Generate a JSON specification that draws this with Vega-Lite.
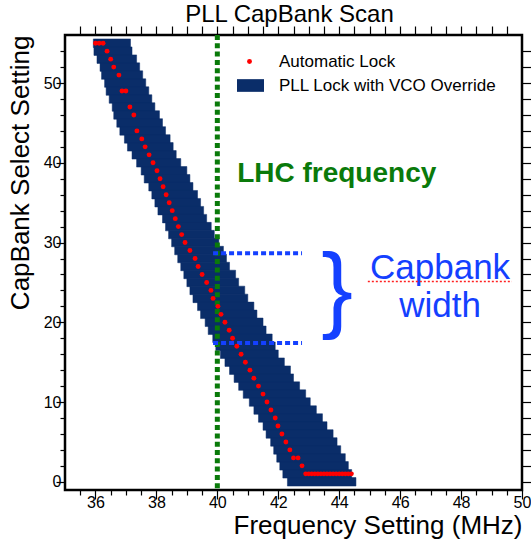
{
  "$schema": "https://vega.github.io/schema/vega-lite/v6.json",
  "width": 457,
  "height": 455,
  "autosize": {"type": "none"},
  "padding": {"left": 65, "top": 35, "right": 9, "bottom": 51},
  "background": "white",
  "config": {
    "font": "Liberation Sans",
    "view": {"stroke": "black", "strokeWidth": 2.5},
    "axis": {"grid": false, "domain": false, "tickColor": "black", "tickWidth": 1.2, "labelColor": "black", "labelFont": "Liberation Sans", "labelFontSize": 16, "titleFont": "Liberation Sans", "titleFontWeight": "normal", "titleColor": "black", "labelFlush": false, "labelOverlap": false, "format": "d"}
  },
  "title": {"text": "PLL CapBank Scan", "fontSize": 24, "fontWeight": "normal", "font": "Liberation Sans", "color": "black", "baseline": "alphabetic", "frame": "group", "offset": -21, "dx": -4},
  "datasets": {
    "override": [
      {"cap": 55, "lo": 35.93, "hi": 37.15},
      {"cap": 54, "lo": 35.95, "hi": 37.2},
      {"cap": 53, "lo": 36.05, "hi": 37.35},
      {"cap": 52, "lo": 36.15, "hi": 37.45},
      {"cap": 51, "lo": 36.2, "hi": 37.55},
      {"cap": 50, "lo": 36.3, "hi": 37.65},
      {"cap": 49, "lo": 36.35, "hi": 37.75},
      {"cap": 48, "lo": 36.45, "hi": 37.85},
      {"cap": 47, "lo": 36.55, "hi": 37.95},
      {"cap": 46, "lo": 36.6, "hi": 38.1},
      {"cap": 45, "lo": 36.7, "hi": 38.2},
      {"cap": 44, "lo": 36.8, "hi": 38.3},
      {"cap": 43, "lo": 36.95, "hi": 38.45},
      {"cap": 42, "lo": 37.05, "hi": 38.55},
      {"cap": 41, "lo": 37.2, "hi": 38.65},
      {"cap": 40, "lo": 37.35, "hi": 38.8},
      {"cap": 39, "lo": 37.5, "hi": 39.0},
      {"cap": 38, "lo": 37.6, "hi": 39.1},
      {"cap": 37, "lo": 37.75, "hi": 39.2},
      {"cap": 36, "lo": 37.85, "hi": 39.35},
      {"cap": 35, "lo": 37.95, "hi": 39.45},
      {"cap": 34, "lo": 38.05, "hi": 39.55},
      {"cap": 33, "lo": 38.2, "hi": 39.65},
      {"cap": 32, "lo": 38.3, "hi": 39.8},
      {"cap": 31, "lo": 38.4, "hi": 39.9},
      {"cap": 30, "lo": 38.5, "hi": 40.05},
      {"cap": 29, "lo": 38.6, "hi": 40.2},
      {"cap": 28, "lo": 38.7, "hi": 40.3},
      {"cap": 27, "lo": 38.8, "hi": 40.4},
      {"cap": 26, "lo": 38.9, "hi": 40.6},
      {"cap": 25, "lo": 39.0, "hi": 40.7},
      {"cap": 24, "lo": 39.1, "hi": 40.9},
      {"cap": 23, "lo": 39.2, "hi": 41.0},
      {"cap": 22, "lo": 39.35, "hi": 41.2},
      {"cap": 21, "lo": 39.45, "hi": 41.3},
      {"cap": 20, "lo": 39.6, "hi": 41.5},
      {"cap": 19, "lo": 39.7, "hi": 41.6},
      {"cap": 18, "lo": 39.85, "hi": 41.8},
      {"cap": 17, "lo": 39.95, "hi": 41.9},
      {"cap": 16, "lo": 40.1, "hi": 42.0},
      {"cap": 15, "lo": 40.25, "hi": 42.2},
      {"cap": 14, "lo": 40.4, "hi": 42.4},
      {"cap": 13, "lo": 40.55, "hi": 42.5},
      {"cap": 12, "lo": 40.7, "hi": 42.7},
      {"cap": 11, "lo": 40.85, "hi": 42.9},
      {"cap": 10, "lo": 41.05, "hi": 43.05},
      {"cap": 9, "lo": 41.2, "hi": 43.25},
      {"cap": 8, "lo": 41.35, "hi": 43.45},
      {"cap": 7, "lo": 41.5, "hi": 43.6},
      {"cap": 6, "lo": 41.6, "hi": 43.8},
      {"cap": 5, "lo": 41.75, "hi": 43.93},
      {"cap": 4, "lo": 41.85, "hi": 44.05},
      {"cap": 3, "lo": 41.95, "hi": 44.2},
      {"cap": 2, "lo": 42.05, "hi": 44.3},
      {"cap": 1, "lo": 42.15, "hi": 44.41},
      {"cap": 0, "lo": 42.3, "hi": 44.55}
    ],
    "autolock": [
      {"cap": 55, "f": 36.0}, {"cap": 55, "f": 36.12}, {"cap": 55, "f": 36.25},
      {"cap": 54, "f": 36.38}, {"cap": 53, "f": 36.5}, {"cap": 52, "f": 36.6},
      {"cap": 51, "f": 36.77}, {"cap": 49, "f": 36.87}, {"cap": 49, "f": 37.0},
      {"cap": 47, "f": 37.13}, {"cap": 46, "f": 37.26}, {"cap": 44, "f": 37.36},
      {"cap": 43, "f": 37.52}, {"cap": 42, "f": 37.63}, {"cap": 41, "f": 37.76},
      {"cap": 40, "f": 37.89}, {"cap": 39, "f": 38.02}, {"cap": 38, "f": 38.12},
      {"cap": 37, "f": 38.22}, {"cap": 36, "f": 38.32}, {"cap": 35, "f": 38.42},
      {"cap": 34, "f": 38.52}, {"cap": 33, "f": 38.62}, {"cap": 32, "f": 38.72},
      {"cap": 31, "f": 38.83}, {"cap": 30, "f": 38.94}, {"cap": 29, "f": 39.1},
      {"cap": 28, "f": 39.27}, {"cap": 27, "f": 39.37}, {"cap": 26, "f": 39.5},
      {"cap": 25, "f": 39.65}, {"cap": 24, "f": 39.79}, {"cap": 23, "f": 39.86},
      {"cap": 22, "f": 40.02}, {"cap": 21, "f": 40.12}, {"cap": 20, "f": 40.25},
      {"cap": 19, "f": 40.39}, {"cap": 18, "f": 40.5}, {"cap": 17, "f": 40.64},
      {"cap": 16, "f": 40.78}, {"cap": 15, "f": 40.92}, {"cap": 14, "f": 41.07},
      {"cap": 13, "f": 41.2}, {"cap": 12, "f": 41.35}, {"cap": 11, "f": 41.5},
      {"cap": 10, "f": 41.63}, {"cap": 9, "f": 41.76}, {"cap": 8, "f": 41.9},
      {"cap": 7, "f": 41.99}, {"cap": 6, "f": 42.12}, {"cap": 5, "f": 42.25},
      {"cap": 4, "f": 42.38}, {"cap": 3, "f": 42.5}, {"cap": 3, "f": 42.65},
      {"cap": 2, "f": 42.78},
      {"cap": 1, "f": 42.9}, {"cap": 1, "f": 43.0}, {"cap": 1, "f": 43.1}, {"cap": 1, "f": 43.2},
      {"cap": 1, "f": 43.3}, {"cap": 1, "f": 43.4}, {"cap": 1, "f": 43.5}, {"cap": 1, "f": 43.6},
      {"cap": 1, "f": 43.7}, {"cap": 1, "f": 43.8}, {"cap": 1, "f": 43.9}, {"cap": 1, "f": 44.0},
      {"cap": 1, "f": 44.1}, {"cap": 1, "f": 44.2}, {"cap": 1, "f": 44.3}, {"cap": 1, "f": 44.4}
    ],
    "one": [{}]
  },
  "resolve": {"axis": {"x": "independent", "y": "independent"}},
  "layer": [
    {
      "data": {"name": "override"},
      "mark": {"type": "bar", "orient": "horizontal", "size": 8.5, "clip": true, "stroke": "#0a2d69", "strokeWidth": 0.5},
      "encoding": {
        "x": {
          "field": "lo", "type": "quantitative",
          "scale": {"domain": [35, 50], "nice": false, "zero": false},
          "axis": {
            "orient": "bottom",
            "values": [36, 38, 40, 42, 44, 46, 48, 50],
            "tickSize": 9, "labelPadding": -5,
            "encode": {"ticks": {"update": {"y2": {"value": -9}}}},
            "title": "Frequency Setting (MHz)", "titleFontSize": 26,
            "titleAnchor": "end", "titleBaseline": "alphabetic", "titleY": 43
          }
        },
        "x2": {"field": "hi"},
        "y": {
          "field": "cap", "type": "quantitative",
          "scale": {"domain": [-0.4, 55.4], "nice": false, "zero": false},
          "axis": {
            "orient": "left",
            "values": [0, 10, 20, 30, 40, 50],
            "tickSize": 9, "labelPadding": -5,
            "encode": {"ticks": {"update": {"x2": {"value": 10}}}},
            "title": "CapBank Select Setting", "titleFontSize": 26,
            "titleAnchor": "end", "titleBaseline": "alphabetic", "titleX": -37
          }
        },
        "fill": {
          "datum": "PLL Lock with VCO Override",
          "scale": {"range": ["#0a2d69"]},
          "legend": {
            "orient": "none", "legendX": 172, "legendY": 37, "title": null, "padding": 0,
            "symbolType": "M-1,-0.47H1V0.47H-1Z", "symbolSize": 729, "symbolStrokeWidth": 0,
            "symbolFillColor": "#0a2d69", "labelLimit": 400,
            "labelFontSize": 17, "labelFont": "Liberation Sans", "labelColor": "black", "labelOffset": 15
          }
        }
      }
    },
    {
      "data": {"name": "one"},
      "mark": {"type": "rule", "color": "#0a7a0a", "strokeWidth": 5, "strokeDash": [5, 3.3]},
      "encoding": {
        "x": {
          "datum": 40, "type": "quantitative",
          "axis": {
            "orient": "bottom", "labels": false, "title": null,
            "values": [35.5, 36.5, 37, 37.5, 38.5, 39, 39.5, 40.5, 41, 41.5, 42.5, 43, 43.5, 44.5, 45, 45.5, 46.5, 47, 47.5, 48.5, 49, 49.5],
            "tickSize": 5,
            "encode": {"ticks": {"update": {"y2": {"value": -5}}}}
          }
        }
      }
    },
    {
      "data": {"name": "one"},
      "mark": {"type": "rule", "color": "#1440ff", "strokeWidth": 4, "strokeDash": [5, 3]},
      "encoding": {
        "x": {"datum": 39.86, "type": "quantitative", "axis": null},
        "x2": {"datum": 42.78},
        "y": {
          "datum": 28.65, "type": "quantitative",
          "axis": {
            "orient": "left", "labels": false, "title": null,
            "values": [2, 4, 6, 8, 12, 14, 16, 18, 22, 24, 26, 28, 32, 34, 36, 38, 42, 44, 46, 48, 52, 54],
            "tickSize": 5,
            "encode": {"ticks": {"update": {"x2": {"value": 5}}}}
          }
        }
      }
    },
    {
      "data": {"name": "one"},
      "mark": {"type": "rule", "color": "#1440ff", "strokeWidth": 4, "strokeDash": [5, 3]},
      "encoding": {
        "x": {"datum": 39.86, "type": "quantitative", "axis": null},
        "x2": {"datum": 42.78},
        "y": {"datum": 17.4, "type": "quantitative", "axis": null}
      }
    },
    {
      "data": {"name": "autolock"},
      "mark": {"type": "point", "shape": "circle", "filled": true, "size": 24, "opacity": 1, "clip": true},
      "encoding": {
        "x": {
          "field": "f", "type": "quantitative",
          "axis": {
            "orient": "top", "labels": false, "title": null,
            "values": [35.5, 36, 36.5, 37, 37.5, 38, 38.5, 39, 39.5, 40, 40.5, 41, 41.5, 42, 42.5, 43, 43.5, 44, 44.5, 45, 45.5, 46, 46.5, 47, 47.5, 48, 48.5, 49, 49.5],
            "tickSize": 9,
            "encode": {"ticks": {"update": {"y2": {"signal": "datum.value % 2 === 0 ? 9 : 5"}}}}
          }
        },
        "y": {
          "field": "cap", "type": "quantitative",
          "axis": {
            "orient": "right", "labels": false, "title": null,
            "values": [0, 2, 4, 6, 8, 10, 12, 14, 16, 18, 20, 22, 24, 26, 28, 30, 32, 34, 36, 38, 40, 42, 44, 46, 48, 50, 52, 54],
            "tickSize": 9,
            "encode": {"ticks": {"update": {"x2": {"signal": "datum.value % 10 === 0 ? -9 : -5"}}}}
          }
        },
        "color": {
          "datum": "Automatic Lock",
          "scale": {"range": ["#ff0000"]},
          "legend": {
            "orient": "none", "legendX": 176, "legendY": 18, "title": null, "padding": 0,
            "symbolType": "circle", "symbolSize": 24, "symbolStrokeWidth": 0,
            "labelFontSize": 17, "labelFont": "Liberation Sans", "labelColor": "black", "labelOffset": 21
          }
        }
      }
    },
    {
      "data": {"name": "one"},
      "mark": {"type": "text", "text": "LHC frequency", "font": "Liberation Sans", "fontSize": 28, "fontWeight": "bold", "color": "#0a7a0a", "align": "left", "baseline": "alphabetic"},
      "encoding": {
        "x": {"datum": 40.65, "type": "quantitative", "axis": null},
        "y": {"datum": 37.6, "type": "quantitative", "axis": null}
      }
    },
    {
      "data": {"name": "one"},
      "mark": {"type": "text", "text": "Capbank", "font": "Liberation Sans", "fontSize": 35, "color": "#1440ff", "align": "center", "baseline": "alphabetic"},
      "encoding": {
        "x": {"datum": 47.31, "type": "quantitative", "axis": null},
        "y": {"datum": 25.37, "type": "quantitative", "axis": null}
      }
    },
    {
      "data": {"name": "one"},
      "mark": {"type": "text", "text": "width", "font": "Liberation Sans", "fontSize": 35, "color": "#1440ff", "align": "center", "baseline": "alphabetic"},
      "encoding": {
        "x": {"datum": 47.31, "type": "quantitative", "axis": null},
        "y": {"datum": 20.7, "type": "quantitative", "axis": null}
      }
    },
    {
      "data": {"name": "one"},
      "mark": {"type": "text", "text": "}", "font": "Liberation Sans", "fontSize": 95, "color": "#1440ff", "align": "center", "baseline": "alphabetic"},
      "encoding": {
        "x": {"datum": 43.93, "type": "quantitative", "axis": null},
        "y": {"datum": 20.34, "type": "quantitative", "axis": null}
      }
    },
    {
      "data": {"name": "one"},
      "mark": {"type": "rule", "color": "#ff2020", "strokeWidth": 1.5, "strokeDash": [2, 2]},
      "encoding": {
        "x": {"datum": 44.94, "type": "quantitative", "axis": null},
        "x2": {"datum": 49.67},
        "y": {"datum": 25.12, "type": "quantitative", "axis": null}
      }
    }
  ]
}
